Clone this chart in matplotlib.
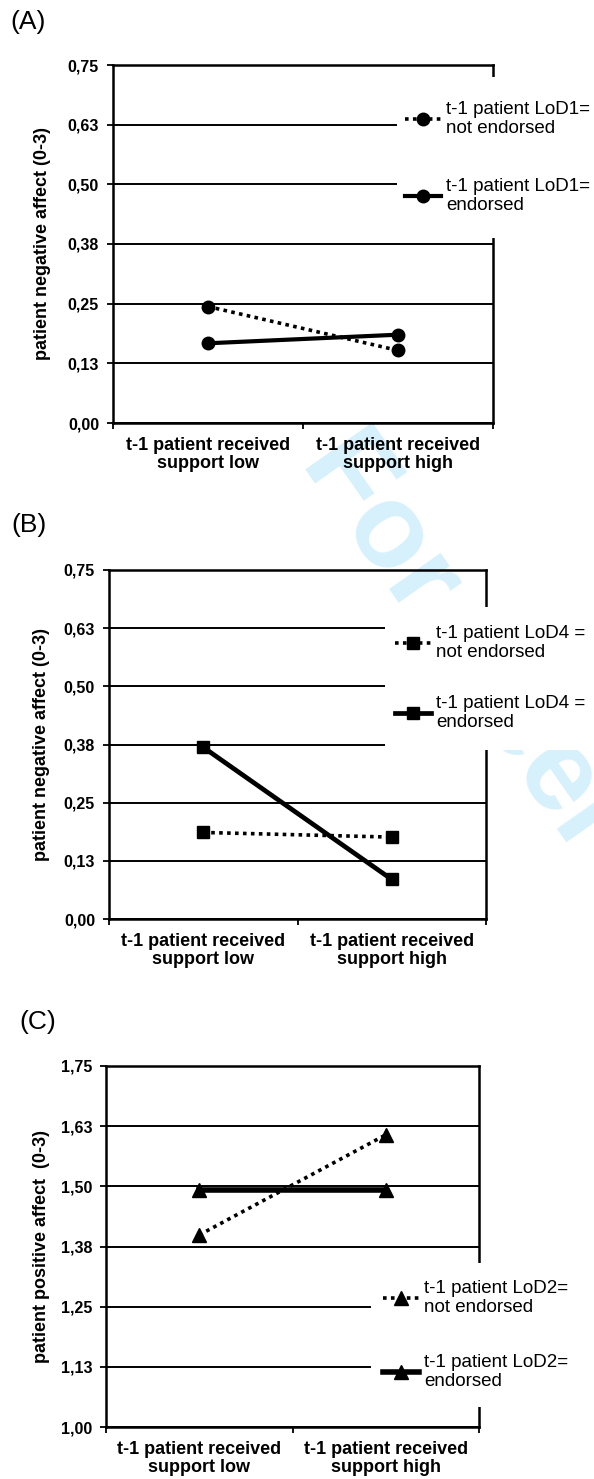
import matplotlib
matplotlib.use("Agg")
import matplotlib.pyplot as plt
from matplotlib.patches import Rectangle

plt.rcParams['font.family'] = ['Liberation Sans', 'DejaVu Sans']

# ---------------- data ----------------
categories = ["t-1 patient received\nsupport low", "t-1 patient received\nsupport high"]

a_ticks = [0.0, 0.125, 0.25, 0.375, 0.5, 0.625, 0.75]
a_ticklabels = ["0,00", "0,13", "0,25", "0,38", "0,50", "0,63", "0,75"]
a_not_endorsed = [0.244, 0.152]
a_endorsed = [0.167, 0.185]

b_ticks = [0.0, 0.125, 0.25, 0.375, 0.5, 0.625, 0.75]
b_ticklabels = ["0,00", "0,13", "0,25", "0,38", "0,50", "0,63", "0,75"]
b_not_endorsed = [0.186, 0.176]
b_endorsed = [0.369, 0.085]

c_ticks = [1.0, 1.125, 1.25, 1.375, 1.5, 1.625, 1.75]
c_ticklabels = ["1,00", "1,13", "1,25", "1,38", "1,50", "1,63", "1,75"]
c_not_endorsed = [1.399, 1.607]
c_endorsed = [1.492, 1.492]

W, H = 594, 1479
fig = plt.figure(figsize=(W / 100, H / 100), dpi=100)


def fx(px):
    return px / W


def fy(py):
    return 1 - py / H


def panel(box, label, label_xy, ticks, ticklabels, ylabel, not_end, end, marker, ms,
          solid_lw, leg_names, mask, leg_xy, leg_spacing):
    left, top, right, bottom = box
    ax = fig.add_axes([fx(left), fy(bottom), (right - left) / W, (bottom - top) / H])
    ax.patch.set_alpha(0)
    x = [0.5, 1.5]
    ax.set_xlim(0, 2)
    ax.set_ylim(ticks[0], ticks[-1])
    ax.set_yticks(ticks)
    ax.set_yticklabels(ticklabels, fontsize=11.5, fontweight='bold')
    ax.yaxis.grid(True, color='black', lw=1.4)
    ax.set_axisbelow(True)
    ax.set_xticks([0, 1, 2])
    ax.set_xticklabels([])
    ax.set_xticks(x, minor=True)
    ax.set_xticklabels(categories, minor=True, fontsize=13, fontweight='bold',
                       linespacing=1.1)
    ax.tick_params(axis='x', which='minor', length=0, pad=10)
    ax.tick_params(axis='both', which='major', direction='out', length=4, width=1.3)
    ax.tick_params(axis='y', pad=6)
    for s in ax.spines.values():
        s.set_linewidth(1.8)
    ax.set_ylabel(ylabel, fontsize=13, fontweight='bold', va='center')
    ax.yaxis.set_label_coords((42 - left) / (right - left), 0.5)

    l1, = ax.plot(x, not_end, color='black', ls=(0, (1, 1.2)), lw=2.6,
                  marker=marker, ms=ms, zorder=3)
    l2, = ax.plot(x, end, color='black', ls='-', lw=solid_lw,
                  marker=marker, ms=ms, zorder=3)

    fig.text(fx(label_xy[0]), fy(label_xy[1]), label, fontsize=19,
             ha='left', va='top')

    # white box behind the legend, covering grid lines and right spine
    mx0, my0, my1 = mask
    fig.patches.append(Rectangle((fx(mx0), fy(my1)), 1 - fx(mx0), (my1 - my0) / H,
                                 transform=fig.transFigure, facecolor='white',
                                 edgecolor='none', zorder=2))

    leg = fig.legend([l1, l2], leg_names, loc='upper left',
                     bbox_to_anchor=(fx(leg_xy[0]), fy(leg_xy[1])),
                     frameon=False, fontsize=13.5, handlelength=1.9,
                     handletextpad=0.3, labelspacing=leg_spacing,
                     borderpad=0, borderaxespad=0)
    leg.set_zorder(5)
    for t in leg.get_texts():
        t.set_linespacing(1.15)
    return ax


# watermark of the source document
fig.text(fx(300), fy(462), "For Peer Review", fontsize=86, fontweight='bold',
         color='#d6f0fc', rotation=-55, rotation_mode='anchor',
         ha='left', va='baseline', zorder=-1)

panel((113, 65, 493, 423), "(A)", (10, 10), a_ticks, a_ticklabels,
      "patient negative affect (0-3)", a_not_endorsed, a_endorsed, 'o', 9, 3.0,
      ["t-1 patient LoD1=\nnot endorsed", "t-1 patient LoD1=\nendorsed"],
      (397, 77, 238), (405, 101), 2.2)

panel((109, 570, 486, 919), "(B)", (11, 513), b_ticks, b_ticklabels,
      "patient negative affect (0-3)", b_not_endorsed, b_endorsed, 's', 8.5, 3.4,
      ["t-1 patient LoD4 =\nnot endorsed", "t-1 patient LoD4 =\nendorsed"],
      (385, 607, 750), (395, 625), 1.8)

panel((106, 1066, 479, 1427), "(C)", (19, 1010), c_ticks, c_ticklabels,
      "patient positive affect  (0-3)", c_not_endorsed, c_endorsed, '^', 10, 4.0,
      ["t-1 patient LoD2=\nnot endorsed", "t-1 patient LoD2=\nendorsed"],
      (371, 1263, 1407), (383, 1280), 2.05)

fig.savefig("out.png", dpi=100)
